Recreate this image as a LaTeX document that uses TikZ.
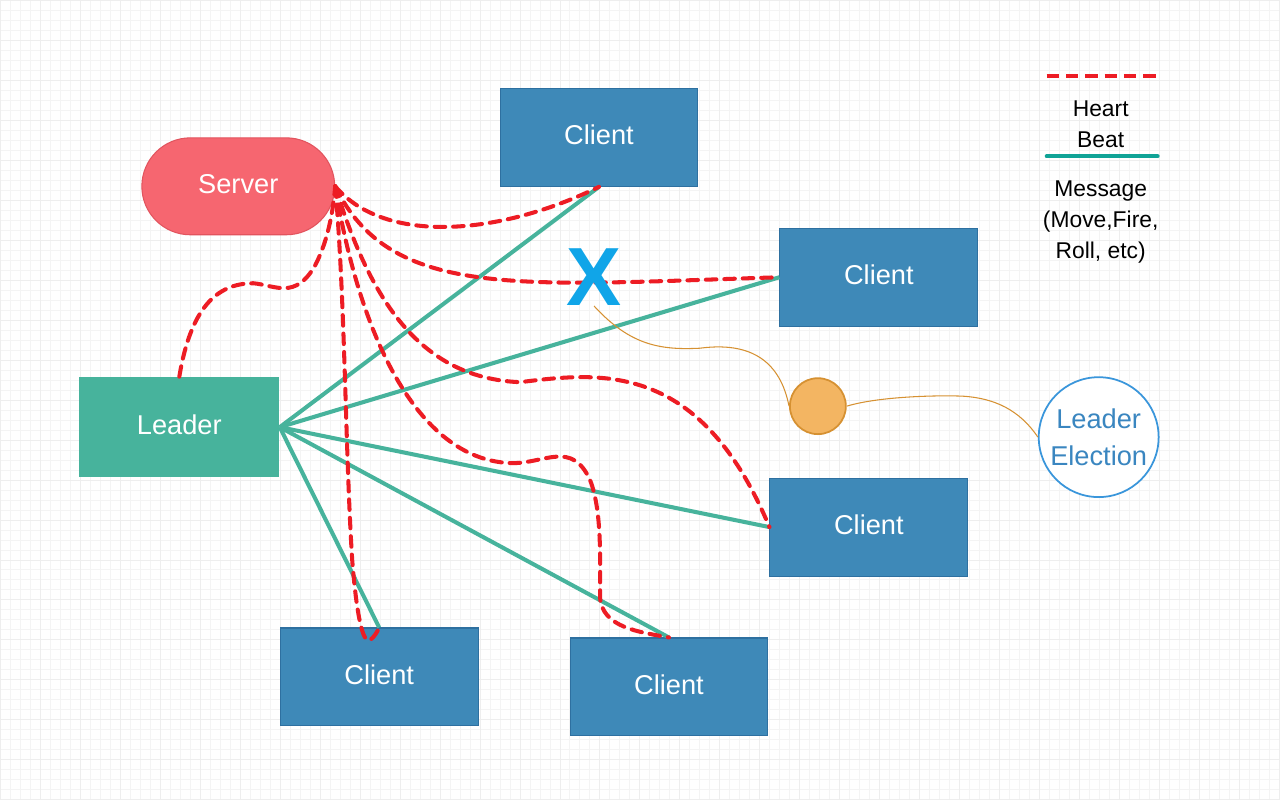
\documentclass[tikz,border=0pt]{standalone}
\usepackage{fontspec}
\setmainfont{Liberation Sans}
\usepackage{tikz}
\usetikzlibrary{shapes.misc}
\definecolor{serverred}{RGB}{246,102,112}
\definecolor{serveredge}{RGB}{226,84,94}
\definecolor{clientblue}{RGB}{62,137,184}
\definecolor{clientedge}{RGB}{46,112,160}
\definecolor{leadgreen}{RGB}{71,179,156}
\definecolor{legendteal}{RGB}{16,163,150}
\definecolor{beatred}{RGB}{237,28,36}
\definecolor{xblue}{RGB}{16,165,232}
\definecolor{dotorange}{RGB}{243,181,98}
\definecolor{dotedge}{RGB}{214,145,50}
\definecolor{electblue}{RGB}{58,150,219}
\definecolor{electtext}{RGB}{58,134,192}
\definecolor{gridminor}{RGB}{244,244,244}
\definecolor{gridmajor}{RGB}{238,238,238}
\tikzset{
  box/.style={rectangle, draw=clientedge, line width=0.6pt, fill=clientblue, text=white,
    minimum width=3.96cm, minimum height=1.96cm, inner sep=0pt, text depth=0.3em,
    font=\fontsize{15.5}{18}\selectfont},
  client/.style={box},
  leaderbox/.style={box, draw=none, fill=leadgreen, minimum width=4cm, minimum height=2cm},
  serverbox/.style={rounded rectangle, draw=serveredge, line width=0.6pt, fill=serverred, text=white,
    minimum width=3.86cm, minimum height=1.94cm, inner sep=0pt, text depth=0.3em,
    font=\fontsize{15.5}{18}\selectfont},
  msg/.style={draw=leadgreen, line width=2.3pt},
  beat/.style={draw=beatred, line width=2.3pt, line cap=round, dash pattern=on 6pt off 4.5pt},
  note/.style={draw=dotedge, line width=0.6pt},
  legendtext/.style={align=center, font=\fontsize{13}{17.6}\selectfont}
}
\begin{document}
\begin{tikzpicture}[x=0.02cm, y=-0.02cm]
  \fill[white] (0,0) rectangle (1280,800);
  \draw[gridminor, line width=0.5pt, step=0.2cm] (0,0) grid (1280,800);
  \draw[gridmajor, line width=0.5pt, step=0.8cm] (0,0) grid (1280,800);
  \useasboundingbox (0,0) rectangle (1280,800);

  \node[leaderbox] (leader) at (179,427) {Leader};
  \node[client] (c1) at (599,137) {Client};
  \node[client] (c2) at (879,277) {Client};
  \node[client] (c3) at (869,527) {Client};
  \node[client] (c4) at (669,687) {Client};
  \node[client] (c5) at (379,677) {Client};
  \node[serverbox] (server) at (238,186) {Server};

  \draw[msg] (leader.east) -- (c1.south);
  \draw[msg] (leader.east) -- (c2.west);
  \draw[msg] (leader.east) -- (c3.west);
  \draw[msg] (leader.east) -- (c4.north);
  \draw[msg] (leader.east) -- (c5.north);

  \draw[beat] (server.east) .. controls (385,245) and (500,235) .. (c1.south);
  \draw[beat] (server.east) .. controls (390,300) and (520,285) .. (c2.west);
  \draw[beat] (server.east) .. controls (370,300) and (420,378) .. (520,382)
    .. controls (600,372) and (700,360) .. (c3.west);
  \draw[beat] (server.east) .. controls (360,340) and (420,462) .. (513,463)
    .. controls (545,463) and (572,440) .. (590,480)
    .. controls (602,510) and (600,560) .. (600,597)
    .. controls (602,628) and (640,632) .. (c4.north);
  \draw[beat] (server.east) .. controls (345,300) and (345,450) .. (352,560)
    .. controls (356,610) and (362,645) .. (370,640)
    .. controls (374,637) and (377,632) .. (c5.north);
  \draw[beat] (leader.north) .. controls (190,310) and (215,283) .. (253,283)
    .. controls (275,285) and (295,300) .. (315,265)
    .. controls (328,240) and (333,210) .. (server.east);

  \node[text=xblue, inner sep=0pt, font=\fontsize{47}{47}\bfseries\selectfont] (x) at (594,277) {X};
  \node[circle, draw=dotedge, line width=1pt, fill=dotorange, minimum size=1.12cm, inner sep=0pt] (dot) at (818,406) {};
  \node[circle, draw=electblue, line width=1pt, fill=white, minimum size=2.4cm, inner sep=0pt,
    text=electtext, align=center, font=\fontsize{15.5}{21}\selectfont] (elect) at (1099,437) {Leader\\Election};

  \draw[note] (x.south) .. controls (630,345) and (660,350) .. (700,348)
    .. controls (760,340) and (782,370) .. (dot.west);
  \draw[note] (dot.east) .. controls (880,396) and (940,395) .. (963,396)
    .. controls (995,398) and (1020,410) .. (elect.west);

  \draw[beat, line cap=butt, dash pattern=on 7pt off 4pt] (1047,76) -- (1158,76);
  \node[legendtext] (hb) at (1101,124) {Heart\\Beat};
  \draw[legendteal, line width=2.3pt, line cap=round] (1047,156) -- (1158,156);
  \node[legendtext] (mtext) at (1101,222) {Message\\(Move,Fire,\\Roll, etc)};
\end{tikzpicture}
\end{document}
